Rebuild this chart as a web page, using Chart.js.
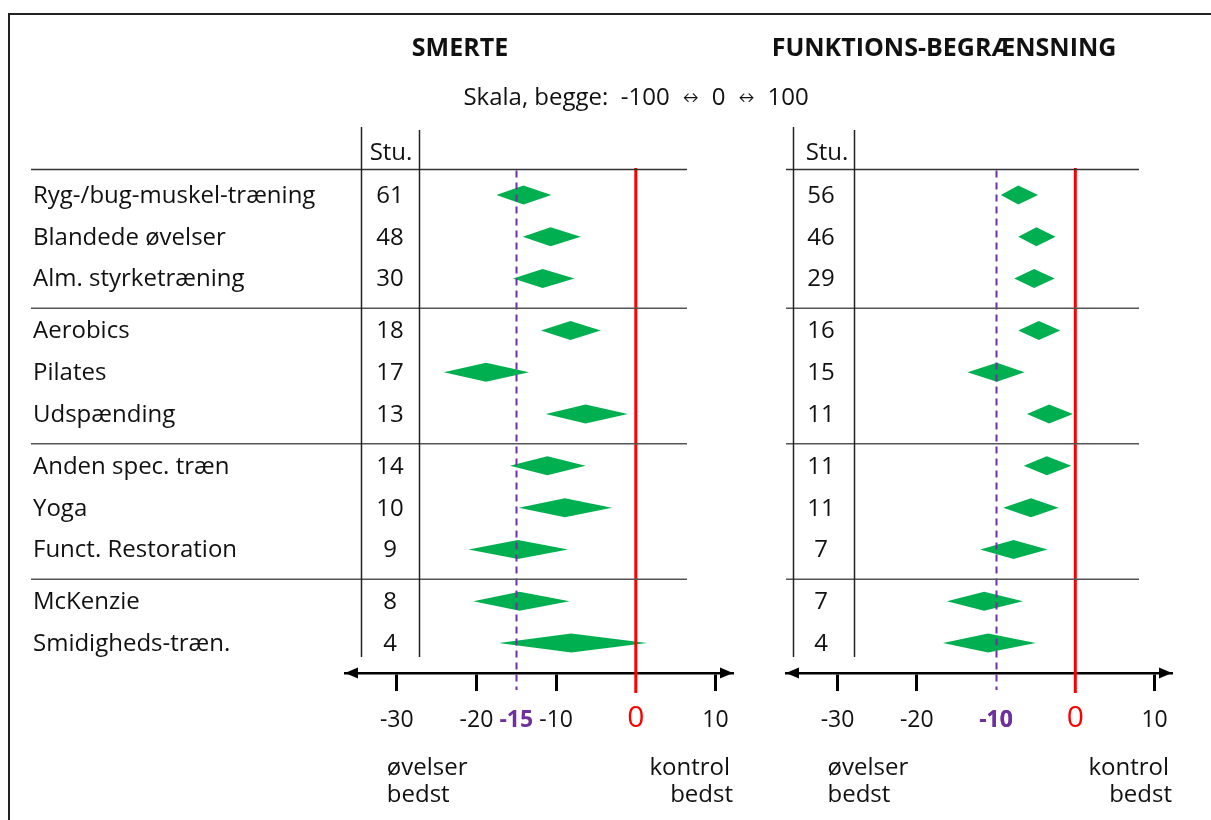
<!DOCTYPE html>
<html>
<head>
<meta charset="utf-8">
<script src="https://cdn.jsdelivr.net/npm/chart.js@4.4.0/dist/chart.umd.min.js"></script>
<style>
  body { margin: 0; background: #fff; width: 1211px; height: 820px; overflow: hidden; position: relative; }
  #frame { position: absolute; left: 8px; top: 13px; width: 1220px; height: 820px;
           border-top: 2px solid #222; border-left: 2px solid #222; }
  canvas { position: absolute; left: 0; top: 0; }
</style>
</head>
<body>
<div id="frame"></div>
<canvas id="smerteChart" width="1211" height="820"></canvas>
<canvas id="funktionChart" width="1211" height="820"></canvas>
<script>
// --- data ---
const categories = ['Ryg-/bug-muskel-træning', 'Blandede øvelser', 'Alm. styrketræning',
    'Aerobics', 'Pilates', 'Udspænding',
    'Anden spec. træn', 'Yoga', 'Funct. Restoration',
    'McKenzie', 'Smidigheds-træn.'];
const groups = [0, 0, 0, 1, 1, 1, 2, 2, 2, 3, 3];

const smerteStudies = [61, 48, 30, 18, 17, 13, 14, 10, 9, 8, 4];
const smerteEst  = [-14.1, -10.7, -11.7, -8.2, -18.8, -6.3, -11.1, -8.9, -14.8, -14.6, -8.1];
const smerteLow  = [-17.5, -14.2, -15.4, -11.9, -24.1, -11.3, -15.8, -14.7, -21.0, -20.4, -17.2];
const smerteHigh = [-10.6, -6.9, -7.7, -4.4, -13.4, -1.0, -6.3, -3.0, -8.5, -8.3, 1.4];
const smerteMean = -15;

const funkStudies = [56, 46, 29, 16, 15, 11, 11, 11, 7, 7, 4];
const funkEst  = [-7.2, -4.9, -5.2, -4.6, -9.9, -3.3, -3.6, -5.6, -7.8, -11.5, -11.0];
const funkLow  = [-9.4, -7.2, -7.7, -7.2, -13.6, -6.1, -6.5, -9.1, -12.0, -16.2, -16.7];
const funkHigh = [-4.7, -2.5, -2.6, -1.9, -6.4, -0.3, -0.5, -2.1, -3.5, -6.6, -5.0];
const funkMean = -10;

const axisTicks = [-30, -20, -10, 0, 10];

// --- styling ---
const GREEN = '#00B050';
const PURPLE = '#7030A0';
const RED = '#FF0000';
const INK = '#111';
const FONT = '"Open Sans", Lato, sans-serif';
const TEXT_SIZE = 24;
const GROUP_GAP = 0.24;      // extra space between row groups (row units)

function rowValue(i) { return i + GROUP_GAP * groups[i]; }

function lastRowsOfGroups() {
    const out = [];
    for (let i = 0; i < groups.length - 1; i++) {
        if (groups[i] !== groups[i + 1]) out.push(i);
    }
    return out;
}

function hline(ctx, x1, x2, y, color, w) {
    ctx.save();
    ctx.strokeStyle = color;
    ctx.lineWidth = w;
    ctx.beginPath();
    ctx.moveTo(x1, y);
    ctx.lineTo(x2, y);
    ctx.stroke();
    ctx.restore();
}

function vline(ctx, x, y1, y2, color, w, dash) {
    ctx.save();
    ctx.strokeStyle = color;
    ctx.lineWidth = w;
    if (dash) ctx.setLineDash(dash);
    ctx.beginPath();
    ctx.moveTo(x, y1);
    ctx.lineTo(x, y2);
    ctx.stroke();
    ctx.restore();
}

function tickValue(ctx) { return ctx.tick ? ctx.tick.value : null; }

function panelPlugin(cfg) {
    return {
        id: 'panel_' + cfg.id,
        afterDatasetsDraw(chart) {
            const ctx = chart.ctx;
            const xs = chart.scales.x;
            const ys = chart.scales.y;
            const area = chart.chartArea;

            // diamonds: low -> estimate -> high
            const meta = chart.getDatasetMeta(0);
            meta.data.forEach((pt, i) => {
                const raw = chart.data.datasets[0].data[i];
                const xl = xs.getPixelForValue(raw.low);
                const xh = xs.getPixelForValue(raw.high);
                const xc = pt.x;
                const yc = pt.y;
                ctx.save();
                ctx.fillStyle = GREEN;
                ctx.beginPath();
                ctx.moveTo(xl, yc);
                ctx.lineTo(xc, yc - 9.5);
                ctx.lineTo(xh, yc);
                ctx.lineTo(xc, yc + 9.5);
                ctx.closePath();
                ctx.fill();
                ctx.restore();
            });

            const headerY = ys.getPixelForValue(rowValue(0) - 0.61);
            // mean line and zero line, on top of the diamonds
            vline(ctx, Math.round(xs.getPixelForValue(cfg.mean)) + 0.5, headerY + 1, area.bottom + 17, PURPLE, 2, [7, 5]);
            vline(ctx, xs.getPixelForValue(0), headerY - 1.5, area.bottom + 20, RED, 3);
        },
        afterDraw(chart) {
            const ctx = chart.ctx;
            const xs = chart.scales.x;
            const ys = chart.scales.y;
            const area = chart.chartArea;

            // arrow heads on the axis
            ctx.save();
            ctx.fillStyle = '#000';
            ctx.beginPath();
            ctx.moveTo(area.left, area.bottom);
            ctx.lineTo(area.left + 13, area.bottom - 5.5);
            ctx.lineTo(area.left + 13, area.bottom + 5.5);
            ctx.closePath();
            ctx.fill();
            ctx.beginPath();
            ctx.moveTo(area.right, area.bottom);
            ctx.lineTo(area.right - 13, area.bottom - 5.5);
            ctx.lineTo(area.right - 13, area.bottom + 5.5);
            ctx.closePath();
            ctx.fill();
            ctx.restore();

            // table grid
            const headerY = ys.getPixelForValue(rowValue(0) - 0.61);
            hline(ctx, cfg.tableLeft, cfg.tableRight, headerY, '#333', 1.5);
            lastRowsOfGroups().forEach(i => {
                hline(ctx, cfg.tableLeft, cfg.tableRight, ys.getPixelForValue(rowValue(i) + 0.71), '#555', 1.5);
            });
            vline(ctx, cfg.col1, 127, 657, '#222', 1.5);
            vline(ctx, cfg.col2, 130, 657, '#222', 1.5);

            ctx.save();
            ctx.fillStyle = INK;
            ctx.textBaseline = 'middle';
            ctx.font = TEXT_SIZE + 'px ' + FONT;
            ctx.textAlign = 'center';
            ctx.fillText('Stu.', cfg.stuX, 153);
            cfg.studies.forEach((n, i) => {
                ctx.fillText(String(n), cfg.numX, ys.getPixelForValue(rowValue(i)) + 1);
            });
            if (cfg.showCategories) {
                ctx.textAlign = 'left';
                categories.forEach((c, i) => {
                    ctx.fillText(c, 33, ys.getPixelForValue(rowValue(i)) + 1);
                });
            }

            // panel title
            ctx.font = 'bold 25px ' + FONT;
            ctx.textAlign = 'center';
            ctx.fillText(cfg.title, cfg.titleX, 49);

            // direction notes under the axis
            ctx.font = TEXT_SIZE + 'px ' + FONT;
            ctx.textAlign = 'left';
            const lx = xs.getPixelForValue(-30) - 10;
            ctx.fillText('øvelser', lx, 768);
            ctx.fillText('bedst', lx, 795);
            ctx.textAlign = 'right';
            ctx.fillText('kontrol', area.right - 3, 768);
            ctx.fillText('bedst', area.right, 795);

            if (cfg.showScale) {
                const parts = [['Skala, begge:  -100', 24], ['↔', 16], ['0', 24], ['↔', 16], ['100', 24]];
                const gap = 13;
                let total = 0;
                parts.forEach(p => { ctx.font = p[1] + 'px ' + FONT; total += ctx.measureText(p[0]).width; });
                total += gap * (parts.length - 1);
                let x = 636 - total / 2;
                ctx.textAlign = 'left';
                parts.forEach(p => {
                    ctx.font = p[1] + 'px ' + FONT;
                    ctx.fillText(p[0], x, 98);
                    x += ctx.measureText(p[0]).width + gap;
                });
            }
            ctx.restore();
        }
    };
}

function makePanel(cfg) {
    const rows = categories.map((c, i) => ({ x: cfg.est[i], y: rowValue(i), low: cfg.low[i], high: cfg.high[i] }));
    const tickValues = axisTicks.concat([cfg.mean]).sort((a, b) => a - b);

    return new Chart(document.getElementById(cfg.id), {
        type: 'scatter',
        data: {
            datasets: [{ data: rows, pointRadius: 0, backgroundColor: GREEN }]
        },
        options: {
            responsive: false,
            animation: false,
            layout: { padding: { left: cfg.left, right: 1211 - cfg.right, top: 120, bottom: 0 } },
            plugins: { legend: { display: false }, tooltip: { enabled: false } },
            scales: {
                x: {
                    type: 'linear',
                    min: -36.5,
                    max: 12.2,
                    afterBuildTicks: s => { s.ticks = tickValues.map(v => ({ value: v })); },
                    afterFit: s => { s.height = 147; },
                    border: { display: true, color: '#000', width: 2.5 },
                    grid: {
                        drawOnChartArea: false,
                        drawTicks: true,
                        tickLength: 18,
                        tickWidth: 3,
                        tickColor: ctx => {
                            const v = tickValue(ctx);
                            return (v === 0 || v === cfg.mean) ? 'rgba(0,0,0,0)' : '#000';
                        }
                    },
                    ticks: {
                        autoSkip: false,
                        maxRotation: 0,
                        padding: 16,
                        callback: v => String(v),
                        color: ctx => {
                            const v = tickValue(ctx);
                            return v === 0 ? RED : (v === cfg.mean ? PURPLE : INK);
                        },
                        font: ctx => {
                            const v = tickValue(ctx);
                            if (v === 0) return { family: FONT, size: 30, lineHeight: '22px' };
                            if (v === cfg.mean) return { family: FONT, size: 23, weight: 'bold' };
                            return { family: FONT, size: 23 };
                        }
                    }
                },
                y: {
                    type: 'linear',
                    reverse: true,
                    min: -1.794,
                    max: 11.435,
                    display: false
                }
            }
        },
        plugins: [panelPlugin(cfg)]
    });
}

makePanel({
    id: 'smerteChart', title: 'SMERTE', titleX: 460,
    est: smerteEst, low: smerteLow, high: smerteHigh, studies: smerteStudies, mean: smerteMean,
    left: 345, right: 733, tableLeft: 31, tableRight: 687,
    col1: 361.5, col2: 419.5, numX: 390, stuX: 391,
    showCategories: true, showScale: true
});

makePanel({
    id: 'funktionChart', title: 'FUNKTIONS-BEGRÆNSNING', titleX: 944,
    est: funkEst, low: funkLow, high: funkHigh, studies: funkStudies, mean: funkMean,
    left: 786, right: 1172, tableLeft: 786, tableRight: 1139,
    col1: 793.5, col2: 854.5, numX: 821, stuX: 827,
    showCategories: false, showScale: false
});
</script>
</body>
</html>
